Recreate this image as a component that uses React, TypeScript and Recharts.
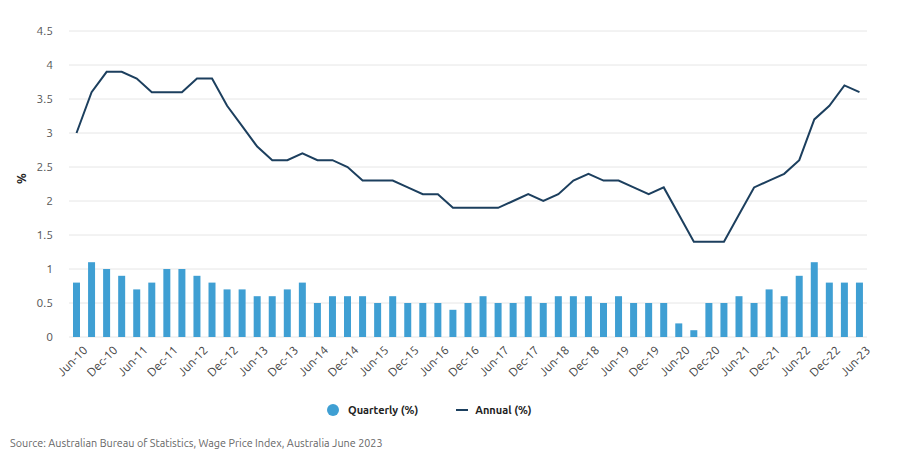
import { ComposedChart, Bar, Line, XAxis, YAxis, CartesianGrid, Label } from "recharts";

const quarters = [
  "Jun-10", "Sep-10", "Dec-10", "Mar-11", "Jun-11", "Sep-11", "Dec-11", "Mar-12",
  "Jun-12", "Sep-12", "Dec-12", "Mar-13", "Jun-13", "Sep-13", "Dec-13", "Mar-14",
  "Jun-14", "Sep-14", "Dec-14", "Mar-15", "Jun-15", "Sep-15", "Dec-15", "Mar-16",
  "Jun-16", "Sep-16", "Dec-16", "Mar-17", "Jun-17", "Sep-17", "Dec-17", "Mar-18",
  "Jun-18", "Sep-18", "Dec-18", "Mar-19", "Jun-19", "Sep-19", "Dec-19", "Mar-20",
  "Jun-20", "Sep-20", "Dec-20", "Mar-21", "Jun-21", "Sep-21", "Dec-21", "Mar-22",
  "Jun-22", "Sep-22", "Dec-22", "Mar-23", "Jun-23",
];

const quarterly = [
  0.8, 1.1, 1.0, 0.9, 0.7, 0.8, 1.0, 1.0, 0.9, 0.8, 0.7, 0.7, 0.6, 0.6, 0.7, 0.8,
  0.5, 0.6, 0.6, 0.6, 0.5, 0.6, 0.5, 0.5, 0.5, 0.4, 0.5, 0.6, 0.5, 0.5, 0.6, 0.5,
  0.6, 0.6, 0.6, 0.5, 0.6, 0.5, 0.5, 0.5, 0.2, 0.1, 0.5, 0.5, 0.6, 0.5, 0.7, 0.6,
  0.9, 1.1, 0.8, 0.8, 0.8,
];

const annual = [
  3.0, 3.6, 3.9, 3.9, 3.8, 3.6, 3.6, 3.6, 3.8, 3.8, 3.4, 3.1, 2.8, 2.6, 2.6, 2.7,
  2.6, 2.6, 2.5, 2.3, 2.3, 2.3, 2.2, 2.1, 2.1, 1.9, 1.9, 1.9, 1.9, 2.0, 2.1, 2.0,
  2.1, 2.3, 2.4, 2.3, 2.3, 2.2, 2.1, 2.2, 1.8, 1.4, 1.4, 1.4, 1.8, 2.2, 2.3, 2.4,
  2.6, 3.2, 3.4, 3.7, 3.6,
];

const yTicks = [0, 0.5, 1, 1.5, 2, 2.5, 3, 3.5, 4, 4.5];

const data = quarters.map((q, i) => ({
  label: q,
  quarterly: quarterly[i],
  annual: annual[i],
}));

const FONT = "Ubuntu, 'Open Sans', 'Noto Sans', sans-serif";
const BAR_COLOR = "#3f9fd3";
const LINE_COLOR = "#1c3f5e";

function XTick(props: any) {
  const { x, y, payload } = props;
  return (
    <g transform={`translate(${x},${y})`}>
      <text
        x={4}
        y={4}
        dy="0.71em"
        textAnchor="end"
        transform="rotate(-45)"
        fill="#444"
        fontSize={12}
        fontFamily={FONT}
      >
        {payload.value}
      </text>
    </g>
  );
}

export default function App() {
  return (
    <div
      style={{
        position: "absolute",
        left: 0,
        top: 0,
        width: 914,
        height: 463,
        background: "#fff",
        fontFamily: FONT,
      }}
    >
      <ComposedChart
        width={914}
        height={400}
        data={data}
        margin={{ top: 31, right: 47, left: 0, bottom: 0 }}
      >
        <CartesianGrid vertical={false} stroke="#e6e6e6" />
        <XAxis
          dataKey="label"
          interval={1}
          axisLine={false}
          tickLine={false}
          height={63}
          tick={<XTick />}
        />
        <YAxis
          width={69}
          domain={[0, 4.5]}
          ticks={yTicks}
          axisLine={false}
          tickLine={false}
          tick={{ fill: "#555", fontSize: 12, fontFamily: FONT }}
          tickMargin={10}
        >
          <Label
            value="%"
            angle={-90}
            position="insideLeft"
            offset={22}
            style={{ fill: "#222", fontSize: 12, fontWeight: "bold", fontFamily: FONT }}
          />
        </YAxis>
        <Bar dataKey="quarterly" fill={BAR_COLOR} barSize={7} isAnimationActive={false} />
        <Line
          dataKey="annual"
          type="linear"
          stroke={LINE_COLOR}
          strokeWidth={2}
          dot={false}
          isAnimationActive={false}
        />
      </ComposedChart>
      <div
        style={{
          position: "absolute",
          top: 404,
          left: 327,
          display: "flex",
          alignItems: "center",
          fontSize: 11,
          fontWeight: "bold",
          color: "#222",
        }}
      >
        <span
          style={{
            width: 12,
            height: 12,
            borderRadius: "50%",
            background: BAR_COLOR,
            display: "inline-block",
            marginRight: 9,
          }}
        />
        <span>Quarterly (%)</span>
        <span
          style={{
            width: 12,
            height: 2,
            background: LINE_COLOR,
            display: "inline-block",
            marginLeft: 38,
            marginRight: 7,
          }}
        />
        <span>Annual (%)</span>
      </div>
      <div
        style={{
          position: "absolute",
          top: 437,
          left: 10,
          fontSize: 10.8,
          color: "#666",
        }}
      >
        Source: Australian Bureau of Statistics, Wage Price Index, Australia June 2023
      </div>
    </div>
  );
}
